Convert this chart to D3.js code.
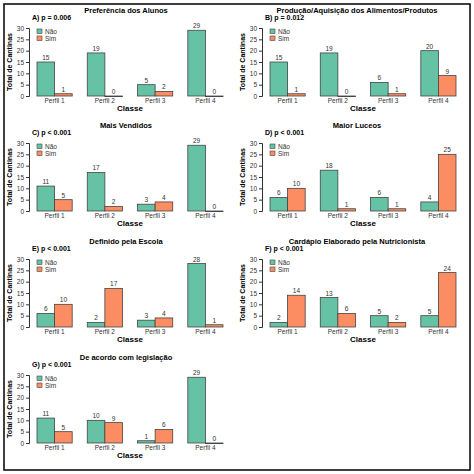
<!DOCTYPE html><html><head><meta charset="utf-8"><script src="https://cdn.jsdelivr.net/npm/d3@7"></script>
<style>body{margin:0;background:#fff}text{font-family:"Liberation Sans",Arial,sans-serif}</style></head><body><svg id="c" width="474" height="474"></svg>
<script>
const categories=["Perfil 1","Perfil 2","Perfil 3","Perfil 4"];
const series=["Não","Sim"];
const titles=["Preferência dos Alunos","Produção/Aquisição dos Alimentos/Produtos","Mais Vendidos","Maior Luceos","Definido pela Escola","Cardápio Elaborado pela Nutricionista","De acordo com legislação"];
const pLabels=["A) p = 0.006","B) p = 0.012","C) p < 0.001","D) p < 0.001","E) p < 0.001","F) p < 0.001","G) p < 0.001"];
const nao=[[15,19,5,29],[15,19,6,20],[11,17,3,29],[6,18,6,4],[6,2,3,28],[2,13,5,5],[11,10,1,29]];
const sim=[[1,0,2,0],[1,0,1,9],[5,2,4,0],[10,1,1,25],[10,17,4,1],[14,6,2,24],[5,9,6,0]];
const yTicks=[0,5,10,15,20,25,30];
const colors=["#66c2a5","#fc8d62"];
const svg=d3.select("#c");
svg.append("rect").attr("x",4).attr("y",4).attr("width",466).attr("height",466).attr("fill","none").attr("stroke","#000").attr("stroke-width",1.5);
const rowTop=[28,143,259,375];
nao.forEach((nv,i)=>{
  const col=i%2,row=Math.floor(i/2);
  const ax=col?262:29, x0=ax+7, x1=ax+195;
  const yt=rowTop[row], yb=yt+68;
  const g=svg.append("g");
  const y=d3.scaleLinear().domain([0,30]).range([yb,yt]);
  const x=d3.scaleBand().domain(categories).range([x0,x1]).paddingInner(0.3).paddingOuter(0.02);
  const xs=d3.scaleBand().domain(series).range([0,x.bandwidth()]);
  g.append("text").attr("x",col?357:126).attr("y",yt-15).attr("text-anchor","middle").attr("font-size",7.5).attr("font-weight","bold").text(titles[i]);
  g.append("text").attr("x",ax+3).attr("y",yt-8).attr("font-size",7).attr("font-weight","bold").text(pLabels[i]);
  const ya=g.append("g").attr("transform",`translate(${ax},0)`).call(d3.axisLeft(y).tickValues(yTicks).tickSize(3).tickPadding(2));
  ya.selectAll("text").attr("font-size",6.5).attr("fill","#333");ya.select(".domain").attr("stroke","#333");ya.selectAll("line").attr("stroke","#333");
  g.append("text").attr("transform",`translate(${ax-17},${(yt+yb)/2}) rotate(-90)`).attr("text-anchor","middle").attr("font-size",7).attr("font-weight","bold").text("Total de Cantinas");
  const vals=[nv,sim[i]];
  categories.forEach((c,k)=>{series.forEach((s,j)=>{
    const v=vals[j][k],bx=x(c)+xs(s);
    g.append("rect").attr("x",bx).attr("y",y(v)).attr("width",xs.bandwidth()).attr("height",Math.max(0.6,yb-y(v))).attr("fill",colors[j]).attr("stroke","#444").attr("stroke-width",0.8);
    g.append("text").attr("x",bx+xs.bandwidth()/2).attr("y",y(v)-2).attr("text-anchor","middle").attr("font-size",6.5).attr("fill","#333").text(v);
  });
  g.append("text").attr("x",x(c)+x.bandwidth()/2).attr("y",yb+7).attr("text-anchor","middle").attr("font-size",6.5).attr("fill","#333").text(c);
  });
  g.append("text").attr("x",(x0+x1)/2).attr("y",yb+15).attr("text-anchor","middle").attr("font-size",8).attr("font-weight","bold").text("Classe");
  series.forEach((s,j)=>{
    g.append("rect").attr("x",ax+8).attr("y",yt+1+j*7).attr("width",5).attr("height",4.5).attr("fill",colors[j]).attr("stroke","#444").attr("stroke-width",0.6);
    g.append("text").attr("x",ax+16).attr("y",yt+6+j*7).attr("font-size",6.5).attr("fill","#333").text(s);
  });
});
</script></body></html>
